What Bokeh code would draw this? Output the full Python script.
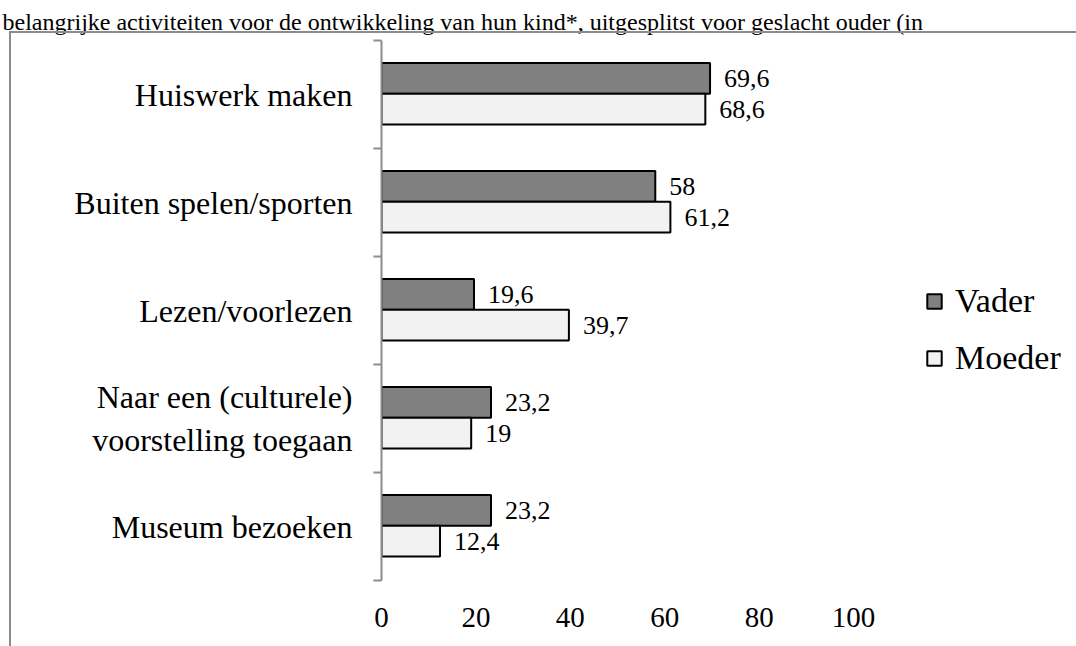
from bokeh.plotting import figure
from bokeh.models import (Range1d, FixedTicker, ColumnDataSource, LabelSet, Legend,
                          LegendItem, InlineStyleSheet)
from bokeh.transform import dodge
from bokeh.embed import file_html
from bokeh.resources import INLINE

categories = ["Huiswerk maken", "Buiten spelen/sporten", "Lezen/voorlezen",
              "Naar een (culturele)\nvoorstelling toegaan", "Museum bezoeken"]
vader = [69.6, 58, 19.6, 23.2, 23.2]
moeder = [68.6, 61.2, 39.7, 19, 12.4]
series_names = ["Vader", "Moeder"]
x_ticks = [0, 20, 40, 60, 80, 100]
title_text = ("belangrijke activiteiten voor de ontwikkeling van hun kind*, "
              "uitgesplitst voor geslacht ouder (in")

FONT = "Liberation Serif"
AXIS_GREY = "#8c8c8c"


def fmt(v):
    s = ("%g" % v)
    return s.replace(".", ",")


n = len(categories)
pos = [n - 0.5 - i for i in range(n)]

src = ColumnDataSource(dict(pos=pos, vader=vader, moeder=moeder,
                            vlab=[fmt(v) for v in vader],
                            mlab=[fmt(v) for v in moeder]))

p = figure(width=1070, height=640, output_backend="svg", toolbar_location=None,
           x_range=Range1d(0, 144.9), y_range=Range1d(0, n),
           min_border_left=381, min_border_right=5, min_border_top=40,
           min_border_bottom=60, title=title_text)
p.outline_line_color = None
p.xgrid.visible = False
p.ygrid.visible = False
p.background_fill_color = "white"
p.border_fill_color = "white"

p.title.text_font = FONT
p.title.text_font_size = "24px"
p.title.text_font_style = "normal"
p.title.text_color = "black"
p.title.align = "left"
p.title.offset = -379
p.title.standoff = 11

# chart-area border: only its left and top edges fall inside the picture
p.stylesheets = [InlineStyleSheet(css="""
:host { position: relative; }
:host::after {
  content: "";
  position: absolute;
  left: 9px; top: 31px; right: -20px; bottom: -20px;
  border-left: 2px solid #8c8c8c;
  border-top: 2px solid #8c8c8c;
  pointer-events: none;
}
""")]

r_v = p.hbar(y=dodge("pos", 0.15, range=p.y_range), left=0, right="vader", height=0.285,
             fill_color="#808080", line_color="black", line_width=2, source=src)
r_m = p.hbar(y=dodge("pos", -0.135, range=p.y_range), left=0, right="moeder", height=0.285,
             fill_color="#f2f2f2", line_color="black", line_width=2, source=src)

lab_v = LabelSet(x="vader", y=dodge("pos", 0.15, range=p.y_range), text="vlab", source=src,
                 x_offset=14, text_baseline="middle", text_font=FONT,
                 text_font_size="26px", text_color="black")
lab_m = LabelSet(x="moeder", y=dodge("pos", -0.135, range=p.y_range), text="mlab", source=src,
                 x_offset=14, text_baseline="middle", text_font=FONT,
                 text_font_size="26px", text_color="black")
p.add_layout(lab_v)
p.add_layout(lab_m)

# y axis: category labels at centres, tick marks at category boundaries
yax = p.yaxis[0]
yax.ticker = FixedTicker(ticks=pos, minor_ticks=list(range(n + 1)))
yax.major_label_overrides = {pos[i]: categories[i] for i in range(n)}
yax.major_tick_line_color = None
yax.major_tick_in = 0
yax.major_tick_out = 0
yax.minor_tick_in = 0
yax.minor_tick_out = 8
yax.minor_tick_line_color = AXIS_GREY
yax.minor_tick_line_width = 2
yax.axis_line_color = AXIS_GREY
yax.axis_line_width = 2
yax.major_label_text_font = FONT
yax.major_label_text_font_size = "32px"
yax.major_label_text_color = "black"
yax.major_label_standoff = 21

xax = p.xaxis[0]
xax.ticker = FixedTicker(ticks=x_ticks)
xax.axis_line_color = None
xax.major_tick_line_color = None
xax.minor_tick_line_color = None
xax.major_label_text_font = FONT
xax.major_label_text_font_size = "29px"
xax.major_label_text_color = "black"
xax.major_label_standoff = 21

legend = Legend(items=[LegendItem(label=series_names[0], renderers=[r_v]),
                       LegendItem(label=series_names[1], renderers=[r_m])],
                location=(544, 203), label_text_font=FONT, label_text_font_size="34px",
                label_text_color="black",
                glyph_width=18, glyph_height=18, label_standoff=12, spacing=19,
                padding=0, margin=0, border_line_color=None, background_fill_alpha=0)
p.add_layout(legend)

open("out.html", "w").write(file_html(p, INLINE))
